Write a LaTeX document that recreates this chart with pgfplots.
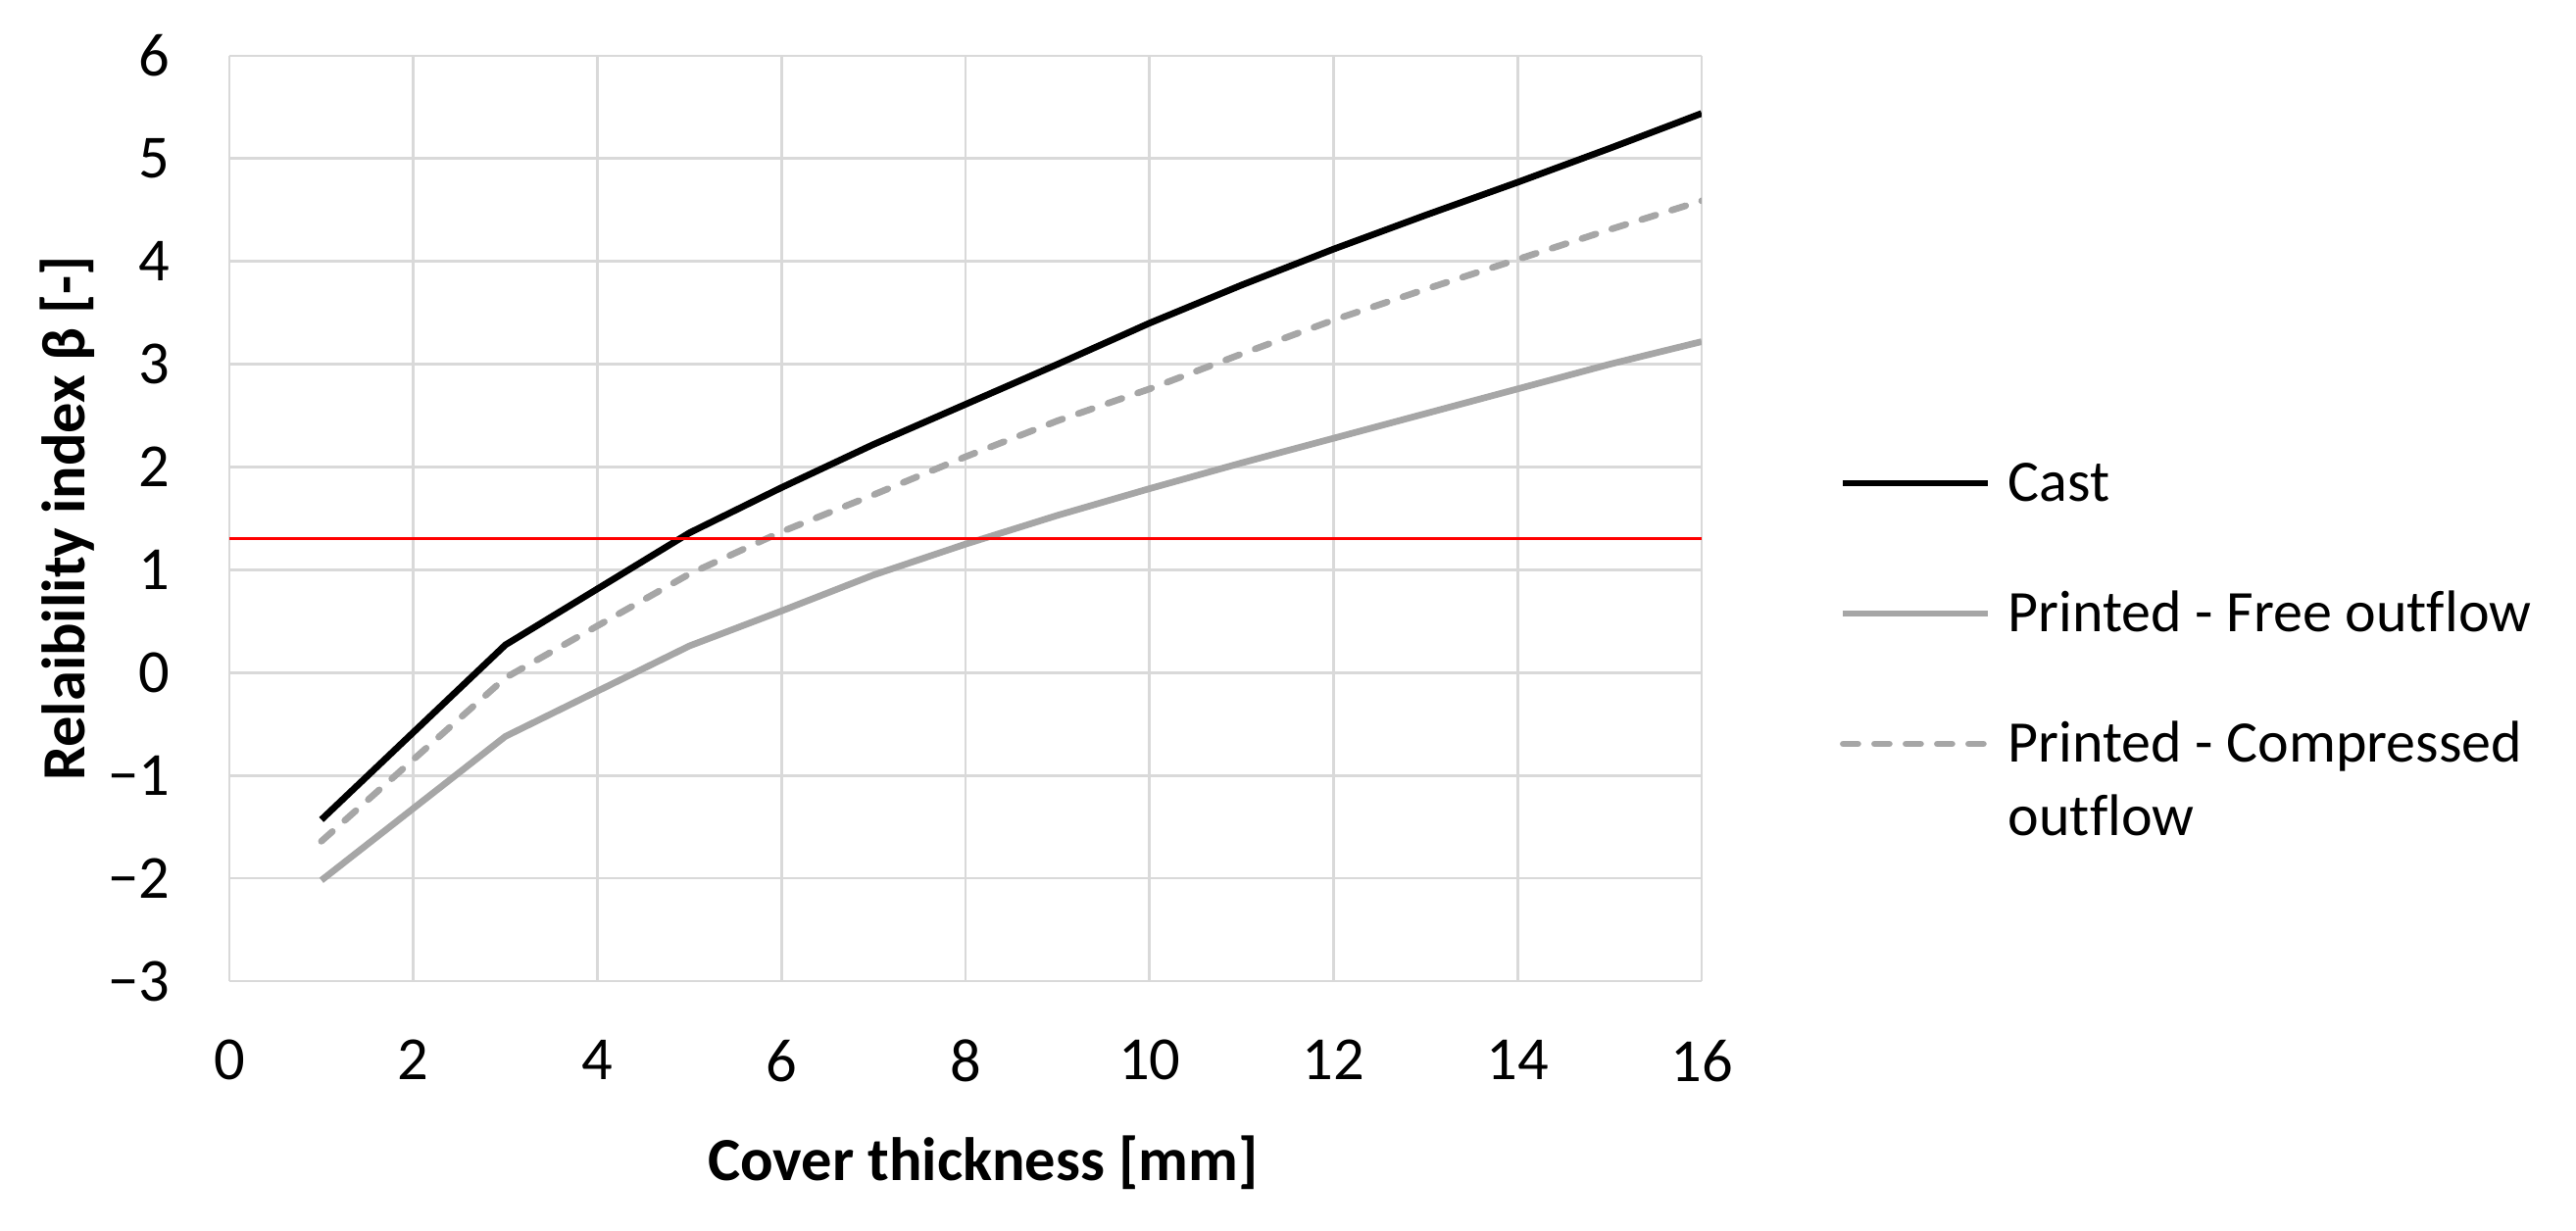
\documentclass[border=0pt]{standalone}
\usepackage{pgfplots}
\pgfplotsset{compat=1.18}
\usepackage{fontspec}
\setmainfont{Carlito}[Ligatures=NoCommon]
\definecolor{lgray}{RGB}{166,166,166}
\definecolor{gridc}{RGB}{217,217,217}
\definecolor{axc}{RGB}{190,190,190}

\begin{document}
\begin{tikzpicture}
\useasboundingbox (-46.8pt,-51pt) rectangle (478.8pt,200.2pt);
\begin{axis}[
  at={(0pt,0pt)}, anchor=south west,
  scale only axis, width=300.4pt, height=188.8pt,
  xmin=0, xmax=16, ymin=-3, ymax=6,
  xtick={0,2,...,16}, ytick={-3,...,6},
  xticklabels={0,2,4,6,8,10,12,14,16},
  yticklabels={−3,−2,−1,0,1,2,3,4,5,6},
  major tick length=0pt,
  grid=major, major grid style={gridc, line width=0.55pt},
  axis line style={draw=none},
  extra y ticks={0}, extra y tick labels={},
  extra y tick style={grid style={axc, line width=0.7pt}},
  extra x ticks={0}, extra x tick labels={},
  extra x tick style={grid style={axc, line width=0.7pt}},
  tick label style={font=\fontsize{12.5}{15}\selectfont, inner sep=0pt},
  xticklabel style={anchor=north, yshift=-11.8pt},
  yticklabel style={anchor=east, xshift=-12pt},
  xlabel={Cover thickness [mm]},
  xlabel style={at={(axis description cs:0.5,0)}, anchor=base, yshift=-40.8pt, xshift=3.6pt, font=\fontsize{12.5}{15}\selectfont\bfseries, inner sep=0pt},
  ylabel={Relaibility index β [-]},
  ylabel style={at={(axis description cs:-0.0985,0.5)}, anchor=base, font=\fontsize{12.5}{15}\selectfont\bfseries, inner sep=0pt},
  legend style={draw=none, fill=none, inner sep=0pt, outer sep=0pt,
    at={(axis description cs:1.0939,0.5657)}, anchor=north west,
    row sep=14.6pt, column sep=3.4pt,
    font=\fontsize{12}{15}\selectfont,
    nodes={inner sep=0pt, text height=9pt, text depth=3pt, anchor=base west}},
  legend image code/.code={\draw[#1] (0pt,3.8pt) -- (29.6pt,3.8pt);},
]
\addplot[black, line width=1.35pt, line join=round] coordinates {
(1,-1.43) (3,0.27) (5,1.36) (6,1.80) (7,2.22) (8,2.61) (9,3.00) (10,3.40) (11,3.77) (12,4.12) (13,4.45) (14,4.77) (15,5.10) (16,5.44)};
\addlegendentry{Cast}
\addplot[lgray, line width=1.35pt, line join=round] coordinates {
(1,-2.02) (3,-0.62) (5,0.26) (6,0.60) (7,0.95) (8,1.25) (9,1.53) (10,1.79) (11,2.04) (12,2.28) (13,2.52) (14,2.76) (15,3.00) (16,3.22)};
\addlegendentry{Printed - Free outflow}
\addplot[lgray, line width=1.35pt, line join=round, line cap=round, dash pattern=on 3pt off 3.4pt] coordinates {
(1,-1.64) (3,-0.05) (5,0.96) (6,1.37) (7,1.73) (8,2.10) (9,2.45) (10,2.76) (11,3.10) (12,3.43) (13,3.73) (14,4.02) (15,4.31) (16,4.59)};
\addlegendentry{\begin{tabular}[t]{@{}l@{}}Printed - Compressed\\outflow\end{tabular}}
\addplot[red, line width=0.6pt, forget plot] coordinates {(0,1.3) (16,1.3)};
\end{axis}
\end{tikzpicture}
\end{document}
